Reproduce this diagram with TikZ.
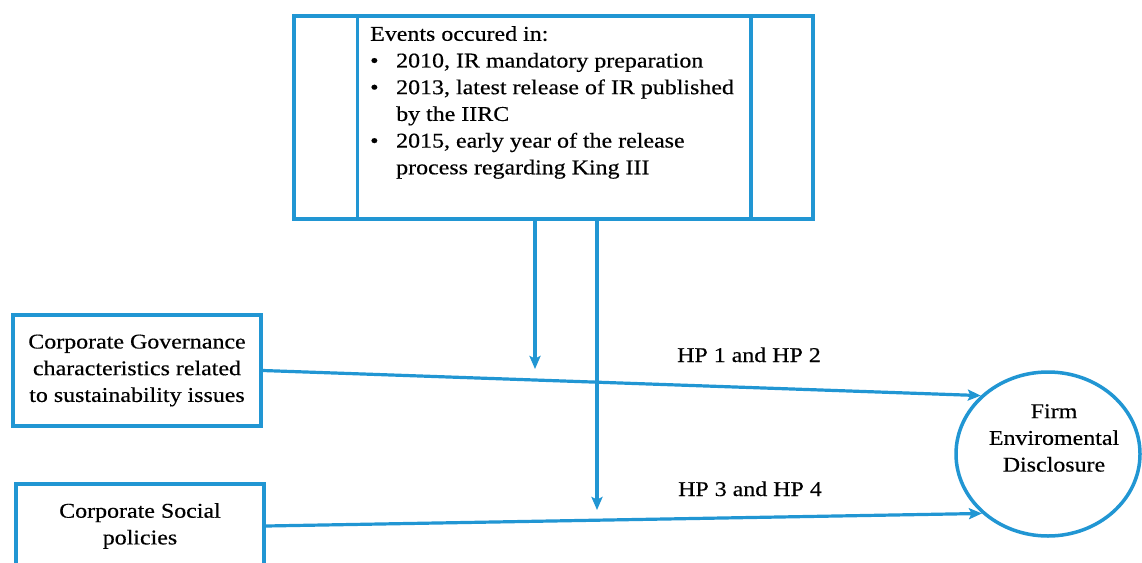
\documentclass[tikz,border=0pt]{standalone}
\usepackage{fontspec}
\setmainfont[FakeStretch=1.14,FakeBold=0.4]{Liberation Serif}
\usetikzlibrary{arrows.meta,calc,shapes.geometric}
\definecolor{lineblue}{RGB}{33,150,211}
\begin{document}
\begin{tikzpicture}[x=1pt,y=-1pt,
  box/.style={draw=lineblue,line width=3.5pt,inner sep=0pt},
  txt/.style={font=\fontsize{21}{26.7}\selectfont,align=center,inner sep=0pt},
  conn/.style={draw=lineblue,line width=3.2pt,-{Stealth[length=13pt,width=11pt,inset=2.5pt]}},
  hplabel/.style={font=\fontsize{21}{26.7}\selectfont,inner sep=0pt,anchor=base}]
\useasboundingbox[fill=white] (0,0) rectangle (1142,562);
% top box
\node[box,minimum width=519pt,minimum height=203pt] (events) at (553.5,117.5) {};
\draw[lineblue,line width=3.5pt] ($(events.north west)+(65,0)$) -- ($(events.south west)+(65,0)$);
\draw[lineblue,line width=3.5pt] ($(events.north east)+(-64,0)$) -- ($(events.south east)+(-64,0)$);
\node[txt,align=left,anchor=north west] (eventstext) at (370,26) {Events occured in:\\
\makebox[26pt][l]{\textbullet}2010, IR mandatory preparation\\
\makebox[26pt][l]{\textbullet}2013, latest release of IR published\\
\hspace*{26pt}by the IIRC\\
\makebox[26pt][l]{\textbullet}2015, early year of the release\\
\hspace*{26pt}process regarding King III};
% left boxes
\node[box,txt,minimum width=248pt,minimum height=111pt] (gov) at (137,370.5) {Corporate Governance\\characteristics related\\to sustainability issues};
\node[box,txt,minimum width=248pt,minimum height=84pt] (csp) at (140,526) {Corporate Social\\policies};
% ellipse
\node[ellipse,draw=lineblue,line width=3.5pt,minimum width=184pt,minimum height=164pt,inner sep=0pt] (fed) at (1048,454) {};
\node[txt] (fedtext) at (1054,438) {Firm\\Enviromental\\Disclosure};
% moderator arrows
\coordinate (m1) at (535,369);
\coordinate (m2) at (597,510);
\draw[conn] ($(events.south)+(-18.5,0)$) -- (m1);
\draw[conn] ($(events.south)+(43.5,0)$) -- (m2);
% main arrows
\draw[conn] (gov.east) -- (fed.139);
\draw[conn] (csp.east) -- (fed.222);
\node[hplabel] (hp12) at (749,362) {HP 1 and HP 2};
\node[hplabel] (hp34) at (750,496) {HP 3 and HP 4};
\end{tikzpicture}
\end{document}
